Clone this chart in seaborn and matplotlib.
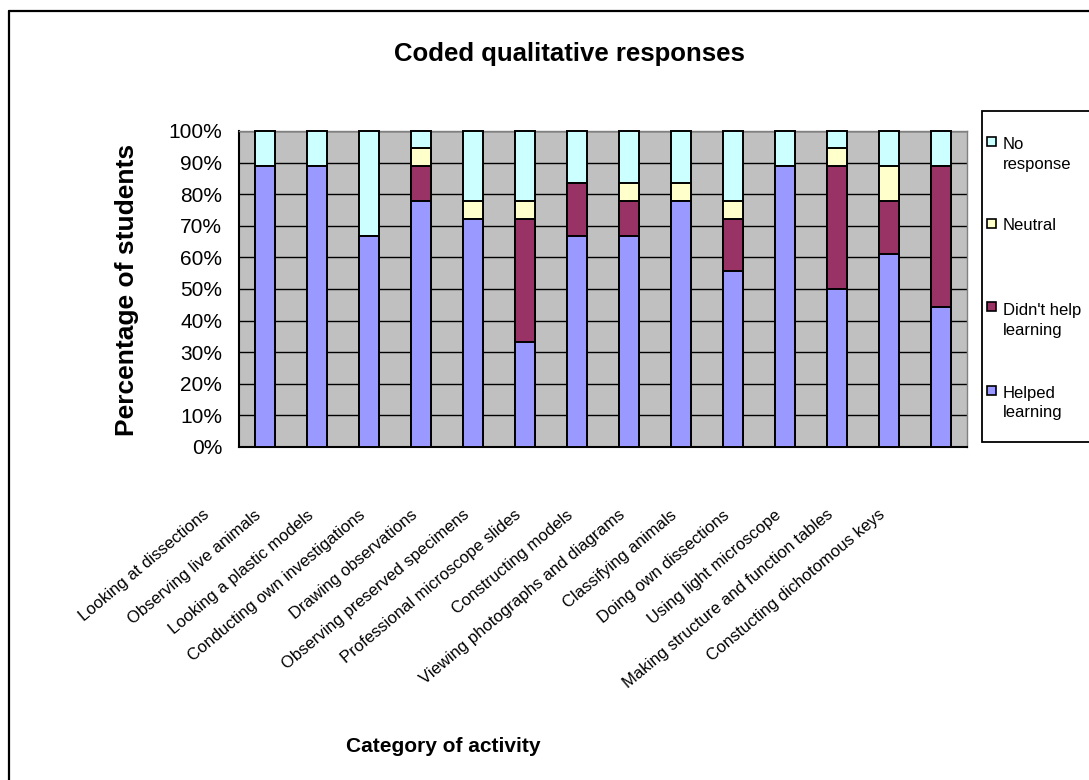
import matplotlib
matplotlib.use("Agg")
import matplotlib.pyplot as plt
import matplotlib.transforms as mtrans
from matplotlib.patches import Rectangle
from matplotlib.lines import Line2D
from matplotlib import font_manager
import numpy as np
import seaborn as sns

# ---- data -------------------------------------------------------------
activities = [
    "Looking at dissections",
    "Observing live animals",
    "Looking a plastic models",
    "Conducting own investigations",
    "Drawing observations",
    "Observing preserved specimens",
    "Professional microscope slides",
    "Constructing models",
    "Viewing photographs and diagrams",
    "Classifying animals",
    "Doing own dissections",
    "Using light microscope",
    "Making structure and function tables",
    "Constucting dichotomous keys",
]
helped = [88.9, 88.9, 66.7, 77.8, 72.2, 33.3, 66.7, 66.7, 77.8, 55.6, 88.9, 50.0, 61.1, 44.4]
didnt_help = [0.0, 0.0, 0.0, 11.1, 0.0, 38.9, 16.7, 11.1, 0.0, 16.7, 0.0, 38.9, 16.7, 44.5]
neutral = [0.0, 0.0, 0.0, 5.6, 5.6, 5.6, 0.0, 5.6, 5.6, 5.5, 0.0, 5.6, 11.1, 0.0]
no_response = [11.1, 11.1, 33.3, 5.5, 22.2, 22.2, 16.6, 16.6, 16.6, 22.2, 11.1, 5.5, 11.1, 11.1]

series_names = ["Helped\nlearning", "Didn't help\nlearning", "Neutral", "No\nresponse"]
series_colors = ["#9999FF", "#993366", "#FFFFCC", "#CCFFFF"]
y_ticks = list(range(0, 101, 10))

# ---- figure -----------------------------------------------------------
sns.set_style("white")
plt.rcParams["font.family"] = ["Liberation Sans", "DejaVu Sans"]
for key in ["text.color", "axes.labelcolor", "xtick.color", "ytick.color"]:
    plt.rcParams[key] = "black"

# narrow face for the slanted category names, if available
narrow_names = {f.name for f in font_manager.fontManager.ttflist}
if "Liberation Sans Narrow" in narrow_names:
    cat_family, cat_size = ["Liberation Sans Narrow"], 14.0
else:
    cat_family, cat_size = ["Liberation Sans"], 12.0

W, H = 1089, 780
fig = plt.figure(figsize=(W / 100, H / 100), dpi=100, facecolor="white")


def fx(px):
    return px / W


def fy(py):
    return 1 - py / H


ax = fig.add_axes([fx(239), fy(447), fx(967) - fx(239), fy(131) - fy(447)])
ax.set_facecolor("#C0C0C0")

# stacked columns: draw cumulative totals from the top segment downwards
layers = [helped, didnt_help, neutral, no_response]
cum = np.cumsum(np.array(layers), axis=0)
for i in range(3, -1, -1):
    sns.barplot(x=activities, y=cum[i], order=activities, color=series_colors[i],
                saturation=1, width=0.37, edgecolor="black", linewidth=1.4,
                errorbar=None, ax=ax)
for p in ax.patches:
    p.set_clip_on(False)
    p.set_zorder(3)

ax.set_ylim(0, 100)
ax.set_xlim(-0.5, len(activities) - 0.5)
ax.set_xlabel("")
ax.set_ylabel("")

# y axis
ax.set_yticks(y_ticks)
ax.set_yticklabels([f"{v}%" for v in y_ticks], fontsize=15)
ax.tick_params(axis="y", direction="out", length=6, width=1.3, pad=6, colors="black")
ax.yaxis.grid(True, color="black", linewidth=1.0)
ax.xaxis.grid(False)
ax.set_axisbelow(True)

# x axis: tick marks between categories, labels rotated
ax.set_xticks(np.arange(-0.5, len(activities), 1.0), minor=True)
ax.tick_params(axis="x", which="minor", direction="out", length=7, width=1.3, color="black")
ax.tick_params(axis="x", which="major", length=0, pad=50)
ax.set_xticks(range(len(activities)))
ax.set_xticklabels(activities, fontsize=cat_size, family=cat_family)
shift = mtrans.ScaledTranslation(-0.55, 0, fig.dpi_scale_trans)
for lab in ax.get_xticklabels():
    lab.set_rotation(40)
    lab.set_rotation_mode("anchor")
    lab.set_ha("right")
    lab.set_va("baseline")
    lab.set_transform(lab.get_transform() + shift)

for s in ["left", "bottom"]:
    ax.spines[s].set_color("black")
    ax.spines[s].set_linewidth(1.5)
for s in ["top", "right"]:
    ax.spines[s].set_color("#808080")
    ax.spines[s].set_linewidth(1.0)

# titles
fig.text(fx(569), fy(54), "Coded qualitative responses", ha="center", va="center",
         fontsize=18.5, fontweight="bold")
fig.text(fx(127), fy(290), "Percentage of students", ha="center", va="center",
         rotation=90, fontsize=19, fontweight="bold")
fig.text(fx(443), fy(747), "Category of activity", ha="center", va="center",
         fontsize=15, fontweight="bold")

# chart border
fig.add_artist(Line2D([fx(9), fx(9)], [fy(11), 0], color="black", lw=1.6,
                      transform=fig.transFigure))
fig.add_artist(Line2D([fx(9), 1], [fy(11), fy(11)], color="black", lw=1.6,
                      transform=fig.transFigure))

# legend box with entries listed top-down
fig.add_artist(Rectangle((fx(982), fy(442)), fx(1120) - fx(982), fy(111) - fy(442),
                         transform=fig.transFigure, facecolor="white",
                         edgecolor="black", linewidth=1.3, clip_on=False))
legend_rows = [  # (series index, marker centre y, first baseline y)
    (3, 141.5, 149),
    (2, 223, 230),
    (1, 306.5, 315),
    (0, 390, 398),
]
for idx, my, by in legend_rows:
    fig.add_artist(Rectangle((fx(987), fy(my + 4.5)), fx(996) - fx(987), fy(my - 4.5) - fy(my + 4.5),
                             transform=fig.transFigure, facecolor=series_colors[idx],
                             edgecolor="black", linewidth=1.2))
    for k, line in enumerate(series_names[idx].split("\n")):
        fig.text(fx(1003), fy(by + 19.5 * k), line, ha="left", va="baseline", fontsize=12)

fig.savefig("out.png", dpi=100, facecolor="white")
